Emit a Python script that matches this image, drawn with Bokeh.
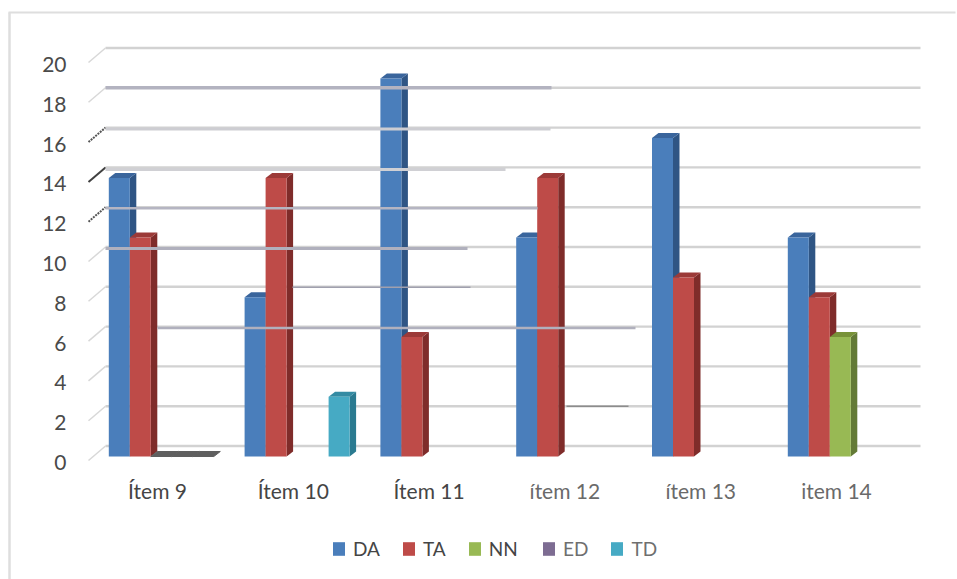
from bokeh.embed import file_html
from bokeh.resources import INLINE
from bokeh.plotting import figure
from bokeh.models import Range1d, LinearAxis, FixedTicker, Legend, LegendItem

# Survey answers per item
items = ["Ítem 9", "Ítem 10", "Ítem 11", "ítem 12", "ítem 13", "item 14"]
DA = [14, 8, 19, 11, 16, 11]
TA = [11, 14, 6, 14, 9, 8]
NN = [0, None, None, None, None, 6]
ED = [0, None, None, None, None, None]
TD = [0, 3, None, None, None, None]
y_ticks = [0, 2, 4, 6, 8, 10, 12, 14, 16, 18, 20]

W, H = 957, 579
UX, UY = 135.8, 19.9      # pixels per category, pixels per unit
X0, Y0 = 157, 462         # pixel position of category 0 and value 0
dx = 1 / UX               # one pixel expressed in x units
dy = 1 / UY               # one pixel expressed in y units

BAR_W = 21 * dx
SLOT = 21 * dx
DEPTH_X, DEPTH_Y = 6.5 * dx, 5 * dy      # bar depth
BAR_DX, BAR_DY = 3.8 * dx, 6 * dy        # bars sit slightly into the floor
WALL_Y = 16.5 * dy                       # back wall lift above the axis origin
EDGE_Y = 2 * dy                          # front end of the floor-edge strokes


def px(x):
    return (x - X0) / UX


def py(y):
    return (Y0 - y) / UY


p = figure(width=W, height=H, output_backend="svg", toolbar_location=None,
           x_range=Range1d(px(0), px(W)), y_range=Range1d(py(H), py(0)),
           min_border=0, outline_line_color=None, background_fill_color="white",
           border_fill_color="white")
p.xaxis.visible = False
p.yaxis.visible = False
p.xgrid.visible = False
p.ygrid.visible = False

# Chart area border (top and left edges only)
p.line([px(8), px(955)], [py(12), py(12)], line_color="#dedede", line_width=2)
p.line([px(9), px(9)], [py(12), py(579)], line_color="#dedede", line_width=2.5)

# Back wall gridlines and the short floor-edge strokes next to them
wall_left, wall_right = px(105), px(920)
left_edge = px(88)
for v in y_ticks:
    yb = v + WALL_Y
    ye = v + EDGE_Y
    p.line([wall_left, wall_right], [yb, yb], line_color="#d2d2d2", line_width=2.4)
    if v in (12, 16):
        p.line([left_edge, wall_left], [ye, yb], line_color="#555555", line_width=2, line_dash="2 1")
    elif v == 14:
        p.line([left_edge, wall_left], [ye, yb], line_color="#404040", line_width=2)
    else:
        p.line([left_edge, wall_left], [ye, yb], line_color="#d8d8d8", line_width=1.5)

# Series: name, values, front, side and top colours
series = [
    ("DA", DA, "#4a7ebb", "#2f5584", "#3a659c"),
    ("TA", TA, "#be4b48", "#7f2c2a", "#9c3a38"),
    ("NN", NN, "#98b954", "#637a36", "#789238"),
    ("ED", ED, "#7d6c92", "#554866", "#64557a"),
    ("TD", TD, "#46aac4", "#2a7a90", "#348ba3"),
]
legend_renderers = {}
for j, (name, values, front, side, top) in enumerate(series):
    rows = [(i, v) for i, v in enumerate(values) if v is not None]
    left = [i - 2.5 * SLOT + j * SLOT + BAR_DX for i, _ in rows]
    right = [a + BAR_W for a in left]
    base = [BAR_DY] * len(rows)
    tops = [v + BAR_DY for _, v in rows]
    p.patches([[r, r + DEPTH_X, r + DEPTH_X, r] for r in right],
              [[b, b + DEPTH_Y, t + DEPTH_Y, t] for b, t in zip(base, tops)],
              fill_color=side, line_color=None)
    # Columns with a zero value collapse to a flat dark plate
    top_colours = ["#5f5f5f" if v == 0 else top for _, v in rows]
    p.patches([[a, b, b + DEPTH_X, a + DEPTH_X] for a, b in zip(left, right)],
              [[t, t, t + DEPTH_Y, t + DEPTH_Y] for t in tops],
              fill_color=top_colours, line_color=top_colours,
              line_alpha=[1 if v == 0 else 0 for _, v in rows], line_width=1)
    legend_renderers[name] = p.quad(left=left, right=right, bottom=base, top=tops,
                                    fill_color=front, line_color=None)

# Heavier gridline strokes that run across the columns
overlay = [
    (18, 105, 551, "#b3b3c0", 3.5, 0),
    (16, 105, 550, "#cdcdd2", 3, 1.5),
    (14, 105, 505, "#d0d0d4", 3, 2),
    (12, 105, 537, "#b5b5c2", 2.5, 1),
    (10, 105, 467, "#b0b0bd", 3, 1.5),
    (8, 292, 470, "#a0a0ae", 1.5, 0.5),
    (6, 157, 635, "#b0b0bd", 2.5, 1.5),
    (2, 566, 628, "#8c8c8c", 1.5, 0),
]
for v, a, b, colour, width, drop in overlay:
    level = v + WALL_Y - drop * dy
    p.line([px(a), px(b)], [level, level], line_color=colour, line_width=width)

# Axes sit inside the full-page frame at fixed positions
y_axis = LinearAxis(fixed_location=left_edge, ticker=FixedTicker(ticks=y_ticks))
y_axis.axis_line_color = None
y_axis.major_tick_line_color = None
y_axis.minor_tick_line_color = None
y_axis.major_label_standoff = 16
y_axis.major_label_text_font = "Lato"
y_axis.major_label_text_font_size = "21px"
y_axis.major_label_text_color = "#4a4a4a"
p.add_layout(y_axis, "left")


def category_axis(indices, colour):
    axis = LinearAxis(fixed_location=0, ticker=FixedTicker(ticks=indices),
                      major_label_overrides={i: items[i] for i in indices})
    axis.axis_line_color = None
    axis.major_tick_line_color = None
    axis.minor_tick_line_color = None
    axis.major_label_standoff = 9
    axis.major_label_text_font = "Lato"
    axis.major_label_text_font_size = "21px"
    axis.major_label_text_color = colour
    p.add_layout(axis, "below")


category_axis([0, 1, 2], "#454545")
category_axis([3, 4, 5], "#6a6a6a")


def legend(names, x, colour):
    box = Legend(items=[LegendItem(label=n, renderers=[legend_renderers[n]]) for n in names],
                 orientation="horizontal", location=(x, H - 560), padding=0, margin=0,
                 spacing=21, glyph_width=15, glyph_height=17, label_standoff=7,
                 label_text_font="Lato", label_text_font_size="19px",
                 label_text_color=colour, border_line_color=None, background_fill_alpha=0)
    p.add_layout(box, "center")


legend(["DA", "TA", "NN"], 331, "#454545")
legend(["ED", "TD"], 541, "#6f6f6f")

open("out.html", "w").write(file_html(p, INLINE))
